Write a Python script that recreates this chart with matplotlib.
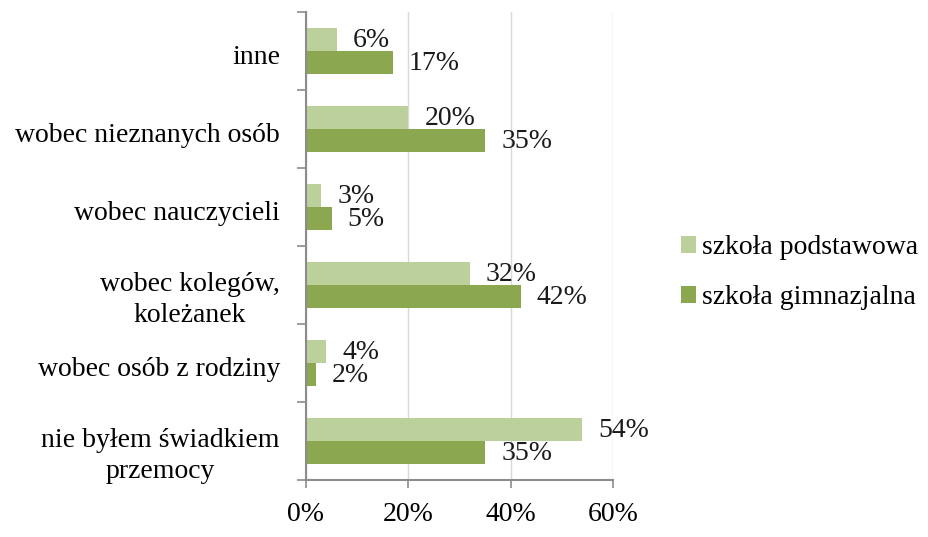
import matplotlib
matplotlib.use("Agg")
import matplotlib.pyplot as plt
import numpy as np
from matplotlib.ticker import FuncFormatter, FixedLocator

categories = [
    "inne",
    "wobec nieznanych osób",
    "wobec nauczycieli",
    "wobec kolegów,\nkoleżanek",
    "wobec osób z rodziny",
    "nie byłem świadkiem\nprzemocy",
]
podstawowa = [6, 20, 3, 32, 4, 54]
gimnazjalna = [17, 35, 5, 42, 2, 35]
series_names = ["szkoła podstawowa", "szkoła gimnazjalna"]

LIGHT = "#BBD09A"
DARK = "#8BA750"
GRID = "#D9D9D9"
AXIS = "#8C8C8C"
FONT = "Liberation Serif"
FS = 20

fig = plt.figure(figsize=(9.29, 5.37), dpi=100)
ax = fig.add_axes([306 / 929, 1 - 480 / 537, 307 / 929, 468 / 537])

y = np.arange(len(categories))
h = 0.29
b1 = ax.barh(y - h / 2, podstawowa, height=h, color=LIGHT, label=series_names[0])
b2 = ax.barh(y + h / 2, gimnazjalna, height=h, color=DARK, label=series_names[1])

for bars, vals in ((b1, podstawowa), (b2, gimnazjalna)):
    for bar, v in zip(bars, vals):
        ax.annotate(f"{v}%", (bar.get_width(), bar.get_y() + bar.get_height() / 2),
                    xytext=(16, -1), textcoords="offset pixels",
                    ha="left", va="center", fontsize=FS, family=FONT, color="#1a1a1a")

ax.set_xlim(0, 60)
ax.set_ylim(len(categories) - 0.5, -0.5)
ax.set_xticks([0, 20, 40, 60])
ax.xaxis.set_major_formatter(FuncFormatter(lambda v, _: f"{v:.0f}%"))
ax.grid(axis="x", color=GRID, linewidth=1)
ax.set_axisbelow(True)

# category names drawn by hand so two-line ones can sit a bit lower, like Excel does
ax.set_yticks(y)
ax.set_yticklabels([])
ax.tick_params(axis="y", length=0)
for yi, name in zip(y, categories):
    dy = -9 if "\n" in name else -3
    ax.annotate(name, (0, yi), xycoords=ax.get_yaxis_transform(),
                xytext=(-26, dy), textcoords="offset pixels",
                ha="right", va="center_baseline", multialignment="center",
                linespacing=1.3, fontsize=FS, family=FONT, annotation_clip=False)

# tick marks at the category boundaries
ax.yaxis.set_minor_locator(FixedLocator(np.arange(-0.5, len(categories), 1)))
ax.tick_params(axis="y", which="minor", length=6.5, color=AXIS, width=1.2)
ax.tick_params(axis="x", length=6, color=AXIS, width=1.2, pad=10)
for lbl in ax.get_xticklabels():
    lbl.set_family(FONT)
    lbl.set_fontsize(FS)

for s in ("top", "right"):
    ax.spines[s].set_visible(False)
for s in ("left", "bottom"):
    ax.spines[s].set_color(AXIS)
    ax.spines[s].set_linewidth(1.5)

fig.legend(handles=[b1, b2], loc="center left", bbox_to_anchor=(681 / 929, 1 - 273 / 537),
           frameon=False, prop={"family": FONT, "size": FS},
           borderpad=0, borderaxespad=0,
           handlelength=0.55, handleheight=0.55, handletextpad=0.22, labelspacing=0.9)

fig.savefig("out.png", dpi=100)
